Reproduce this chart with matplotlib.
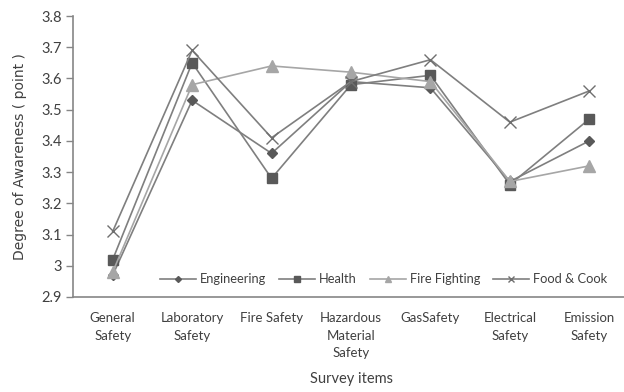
import matplotlib
matplotlib.use("Agg")
import matplotlib.pyplot as plt

categories = ["General\nSafety", "Laboratory\nSafety", "Fire Safety",
              "Hazardous\nMaterial\nSafety", "GasSafety", "Electrical\nSafety",
              "Emission\nSafety"]
engineering = [2.97, 3.53, 3.36, 3.59, 3.57, 3.27, 3.40]
health = [3.02, 3.65, 3.28, 3.58, 3.61, 3.26, 3.47]
fire_fighting = [2.98, 3.58, 3.64, 3.62, 3.59, 3.27, 3.32]
food_cook = [3.11, 3.69, 3.41, 3.59, 3.66, 3.46, 3.56]
yticks = [2.9, 3.0, 3.1, 3.2, 3.3, 3.4, 3.5, 3.6, 3.7, 3.8]
ytick_labels = ["2.9", "3", "3.1", "3.2", "3.3", "3.4", "3.5", "3.6", "3.7", "3.8"]

plt.rcParams["font.family"] = ["Lato", "DejaVu Sans"]

fig = plt.figure(figsize=(6.24, 3.92), dpi=100)
ax = fig.add_axes([73 / 624, 1 - 297 / 392, (629 - 73) / 624, (297 - 16) / 392])

x = list(range(len(categories)))
ax.plot(x, engineering, color="#7f7f7f", lw=1.2, marker="D", ms=5.5,
        mfc="#595959", mec="#595959", label="Engineering")
ax.plot(x, health, color="#7f7f7f", lw=1.2, marker="s", ms=7.5,
        mfc="#595959", mec="#595959", label="Health")
ax.plot(x, fire_fighting, color="#a6a6a6", lw=1.2, marker="^", ms=8,
        mfc="#a6a6a6", mec="#a6a6a6", label="Fire Fighting")
ax.plot(x, food_cook, color="#7f7f7f", lw=1.2, marker="x", ms=9,
        mew=1.0, mec="#6f6f6f", label="Food & Cook")

ax.set_xlim(-0.5, len(categories) - 0.5)
ax.set_ylim(2.9, 3.8)
ax.set_yticks(yticks)
ax.set_yticklabels(ytick_labels, fontsize=10.5, color="#404040")
ax.set_xticks(x)
ax.set_xticklabels(categories, fontsize=9.5, color="#404040", linespacing=1.55)
ax.tick_params(axis="x", length=0, pad=11)
ax.tick_params(axis="y", length=5, color="#868686", width=1, pad=3)

for side in ("top", "right"):
    ax.spines[side].set_visible(False)
for side in ("left", "bottom"):
    ax.spines[side].set_color("#868686")
    ax.spines[side].set_linewidth(1.2)

ax.set_ylabel("Degree of Awareness ( point )", fontsize=10, color="#404040",
              family="DejaVu Sans", labelpad=10)
ax.set_xlabel("Survey items", fontsize=10.5, color="#404040", labelpad=9)

ax.legend(loc="lower left", bbox_to_anchor=(0.135, 0.0), ncol=4, frameon=False,
          fontsize=9.3, handlelength=2.8, columnspacing=1.0, handletextpad=0.3,
          markerscale=0.55, labelcolor="#404040")

fig.savefig("out.png", dpi=100)
